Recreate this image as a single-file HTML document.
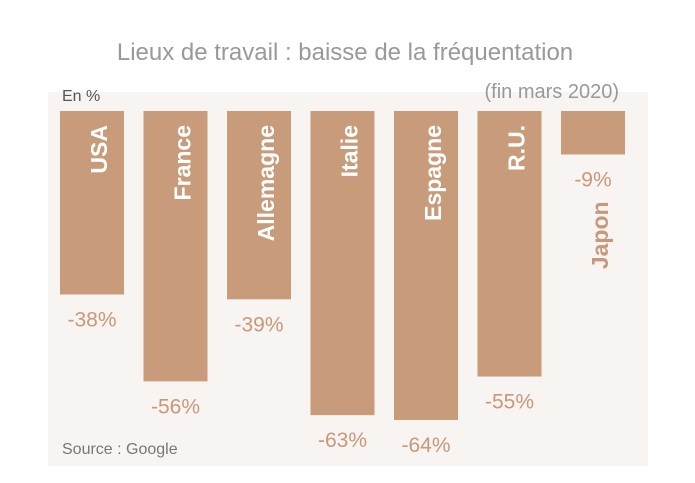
<!DOCTYPE html>
<html><head><meta charset="utf-8"><style>
body{margin:0;background:#fff;}
svg{display:block;font-family:"Liberation Sans",sans-serif;}
</style></head><body>
<svg width="695" height="483">
<text x="345" y="60" text-anchor="middle" font-size="24" fill="#999">Lieux de travail : baisse de la fréquentation</text>
<rect x="48" y="92" width="600" height="374" fill="#f8f4f1"/>
<text x="619" y="98" text-anchor="end" font-size="20" fill="#999">(fin mars 2020)</text>
<text x="62" y="101" font-size="16" fill="#555">En %</text>
<text x="62" y="454" font-size="16" fill="#777">Source : Google</text>
<g id="bars"></g>
</svg>
<script>
const categories=["USA","France","Allemagne","Italie","Espagne","R.U.","Japon"];
const values=[-38,-56,-39,-63,-64,-55,-9];
const valueLabels=["-38%","-56%","-39%","-63%","-64%","-55%","-9%"];
const y0=111, scale=309/64;
function y(v){return y0-v*scale;}
function xb(i){return 60+i*83.5;}
const bw=64;
const g=document.getElementById('bars');
const ns="http://www.w3.org/2000/svg";
categories.forEach((c,i)=>{
  const x=xb(i), yb=y(values[i]), cx=x+bw/2;
  const r=document.createElementNS(ns,'rect');
  r.setAttribute('x',x);r.setAttribute('y',y0);r.setAttribute('width',bw);r.setAttribute('height',yb-y0);
  r.setAttribute('fill','#c89c7b');
  
  
  g.appendChild(r);
  const t=document.createElementNS(ns,'text');
  t.setAttribute('x',cx);t.setAttribute('y',yb+32);t.setAttribute('text-anchor','middle');
  t.setAttribute('font-size','21');t.setAttribute('fill','#c8987a');
  t.textContent=valueLabels[i];
  
  
  g.appendChild(t);
  const n=document.createElementNS(ns,'text');
  const inside=(yb-y0)>100;
  const nx=cx+9, ny=inside?y0+14:yb+47;
  n.setAttribute('transform','translate('+nx+','+ny+') rotate(-90)');
  n.setAttribute('text-anchor','end');n.setAttribute('font-size','23');n.setAttribute('font-weight','bold');
  n.setAttribute('dominant-baseline','middle');
  n.setAttribute('fill',inside?'#fff':'#c8987a');
  n.textContent=c;
  
  
  g.appendChild(n);
});
</script>
</body></html>
